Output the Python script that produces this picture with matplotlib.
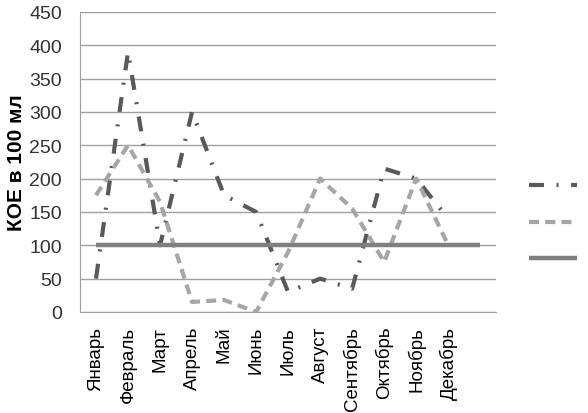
import numpy as np
import matplotlib.pyplot as plt
from matplotlib.lines import Line2D

plt.rcParams['font.family'] = ['Liberation Sans', 'DejaVu Sans']

months = ["Январь", "Февраль", "Март", "Апрель", "Май", "Июнь", "Июль",
          "Август", "Сентябрь", "Октябрь", "Ноябрь", "Декабрь", ""]
series_a = [50, 390, 100, 300, 175, 150, 30, 50, 35, 215, 200, 140]
series_b = [175, 250, 165, 15, 18, 0, 90, 200, 155, 75, 200, 100]
norm = [100] * 13

x = np.arange(len(months))

style_a = dict(color='#595959', lw=3, dashes=(3.6, 3.0, 0.5, 3.0))
style_b = dict(color='#a6a6a6', lw=3, dashes=(2.4, 1.5))
style_n = dict(color='#7f7f7f', lw=3.2, solid_capstyle='butt')

fig = plt.figure(figsize=(5.88, 4.14), dpi=100)
ax = fig.add_axes([0.136, 0.244, 0.708, 0.725])

ax.plot(x[:12], series_a, **style_a)
ax.plot(x[:12], series_b, **style_b)
ax.plot(x, norm, **style_n)

ax.set_xlim(-0.5, 12.5)
ax.set_ylim(0, 450)
ax.set_yticks(np.arange(0, 451, 50))
ax.set_xticks(x)
ax.set_xticklabels(months, rotation=90, fontsize=13.5)
ax.tick_params(axis='y', labelsize=14, length=0, pad=13, colors='#333333')
ax.tick_params(axis='x', length=0, pad=10)
ax.grid(axis='y', color='#a0a0a0', lw=1)
ax.set_axisbelow(True)
for s in ['top', 'right']:
    ax.spines[s].set_visible(False)
for s in ['left', 'bottom']:
    ax.spines[s].set_color('#a0a0a0')
ax.set_ylabel("КОЕ в 100 мл", fontsize=15, fontweight='bold', labelpad=2)

handles = [Line2D([], [], **style_a),
           Line2D([], [], **style_b),
           Line2D([], [], **style_n)]
fig.legend(handles, [' ', ' ', ' '], loc='center left', fontsize=10,
           bbox_to_anchor=(0.899, 0.46), frameon=False, handlelength=3.5,
           labelspacing=1.6, borderaxespad=0, borderpad=0)

fig.savefig('out.png', dpi=100)
